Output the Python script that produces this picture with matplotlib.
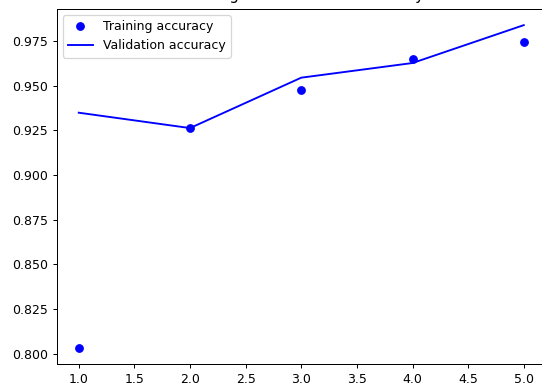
import matplotlib
matplotlib.use("Agg")
import matplotlib.pyplot as plt

epochs = [1, 2, 3, 4, 5]
train_acc = [0.8033, 0.9263, 0.9478, 0.9650, 0.9744]
val_acc = [0.9349, 0.9263, 0.9545, 0.9627, 0.9839]

DPI = 90
W, H = 542, 387
fig = plt.figure(figsize=(W / DPI, H / DPI), dpi=DPI)

# axes box in pixels: left, right, top, bottom
left, right, top, bottom = 56.5, 546.0, 9.0, 364.0
ax = fig.add_axes([left / W, 1 - bottom / H, (right - left) / W, (bottom - top) / H])

ax.plot(epochs, train_acc, "bo", label="Training accuracy")
ax.plot(epochs, val_acc, "b", label="Validation accuracy")
ax.set_title("Training and validation accuracy", pad=7.5)
ax.legend(loc="upper left")

fig.savefig("out.png", dpi=DPI)
